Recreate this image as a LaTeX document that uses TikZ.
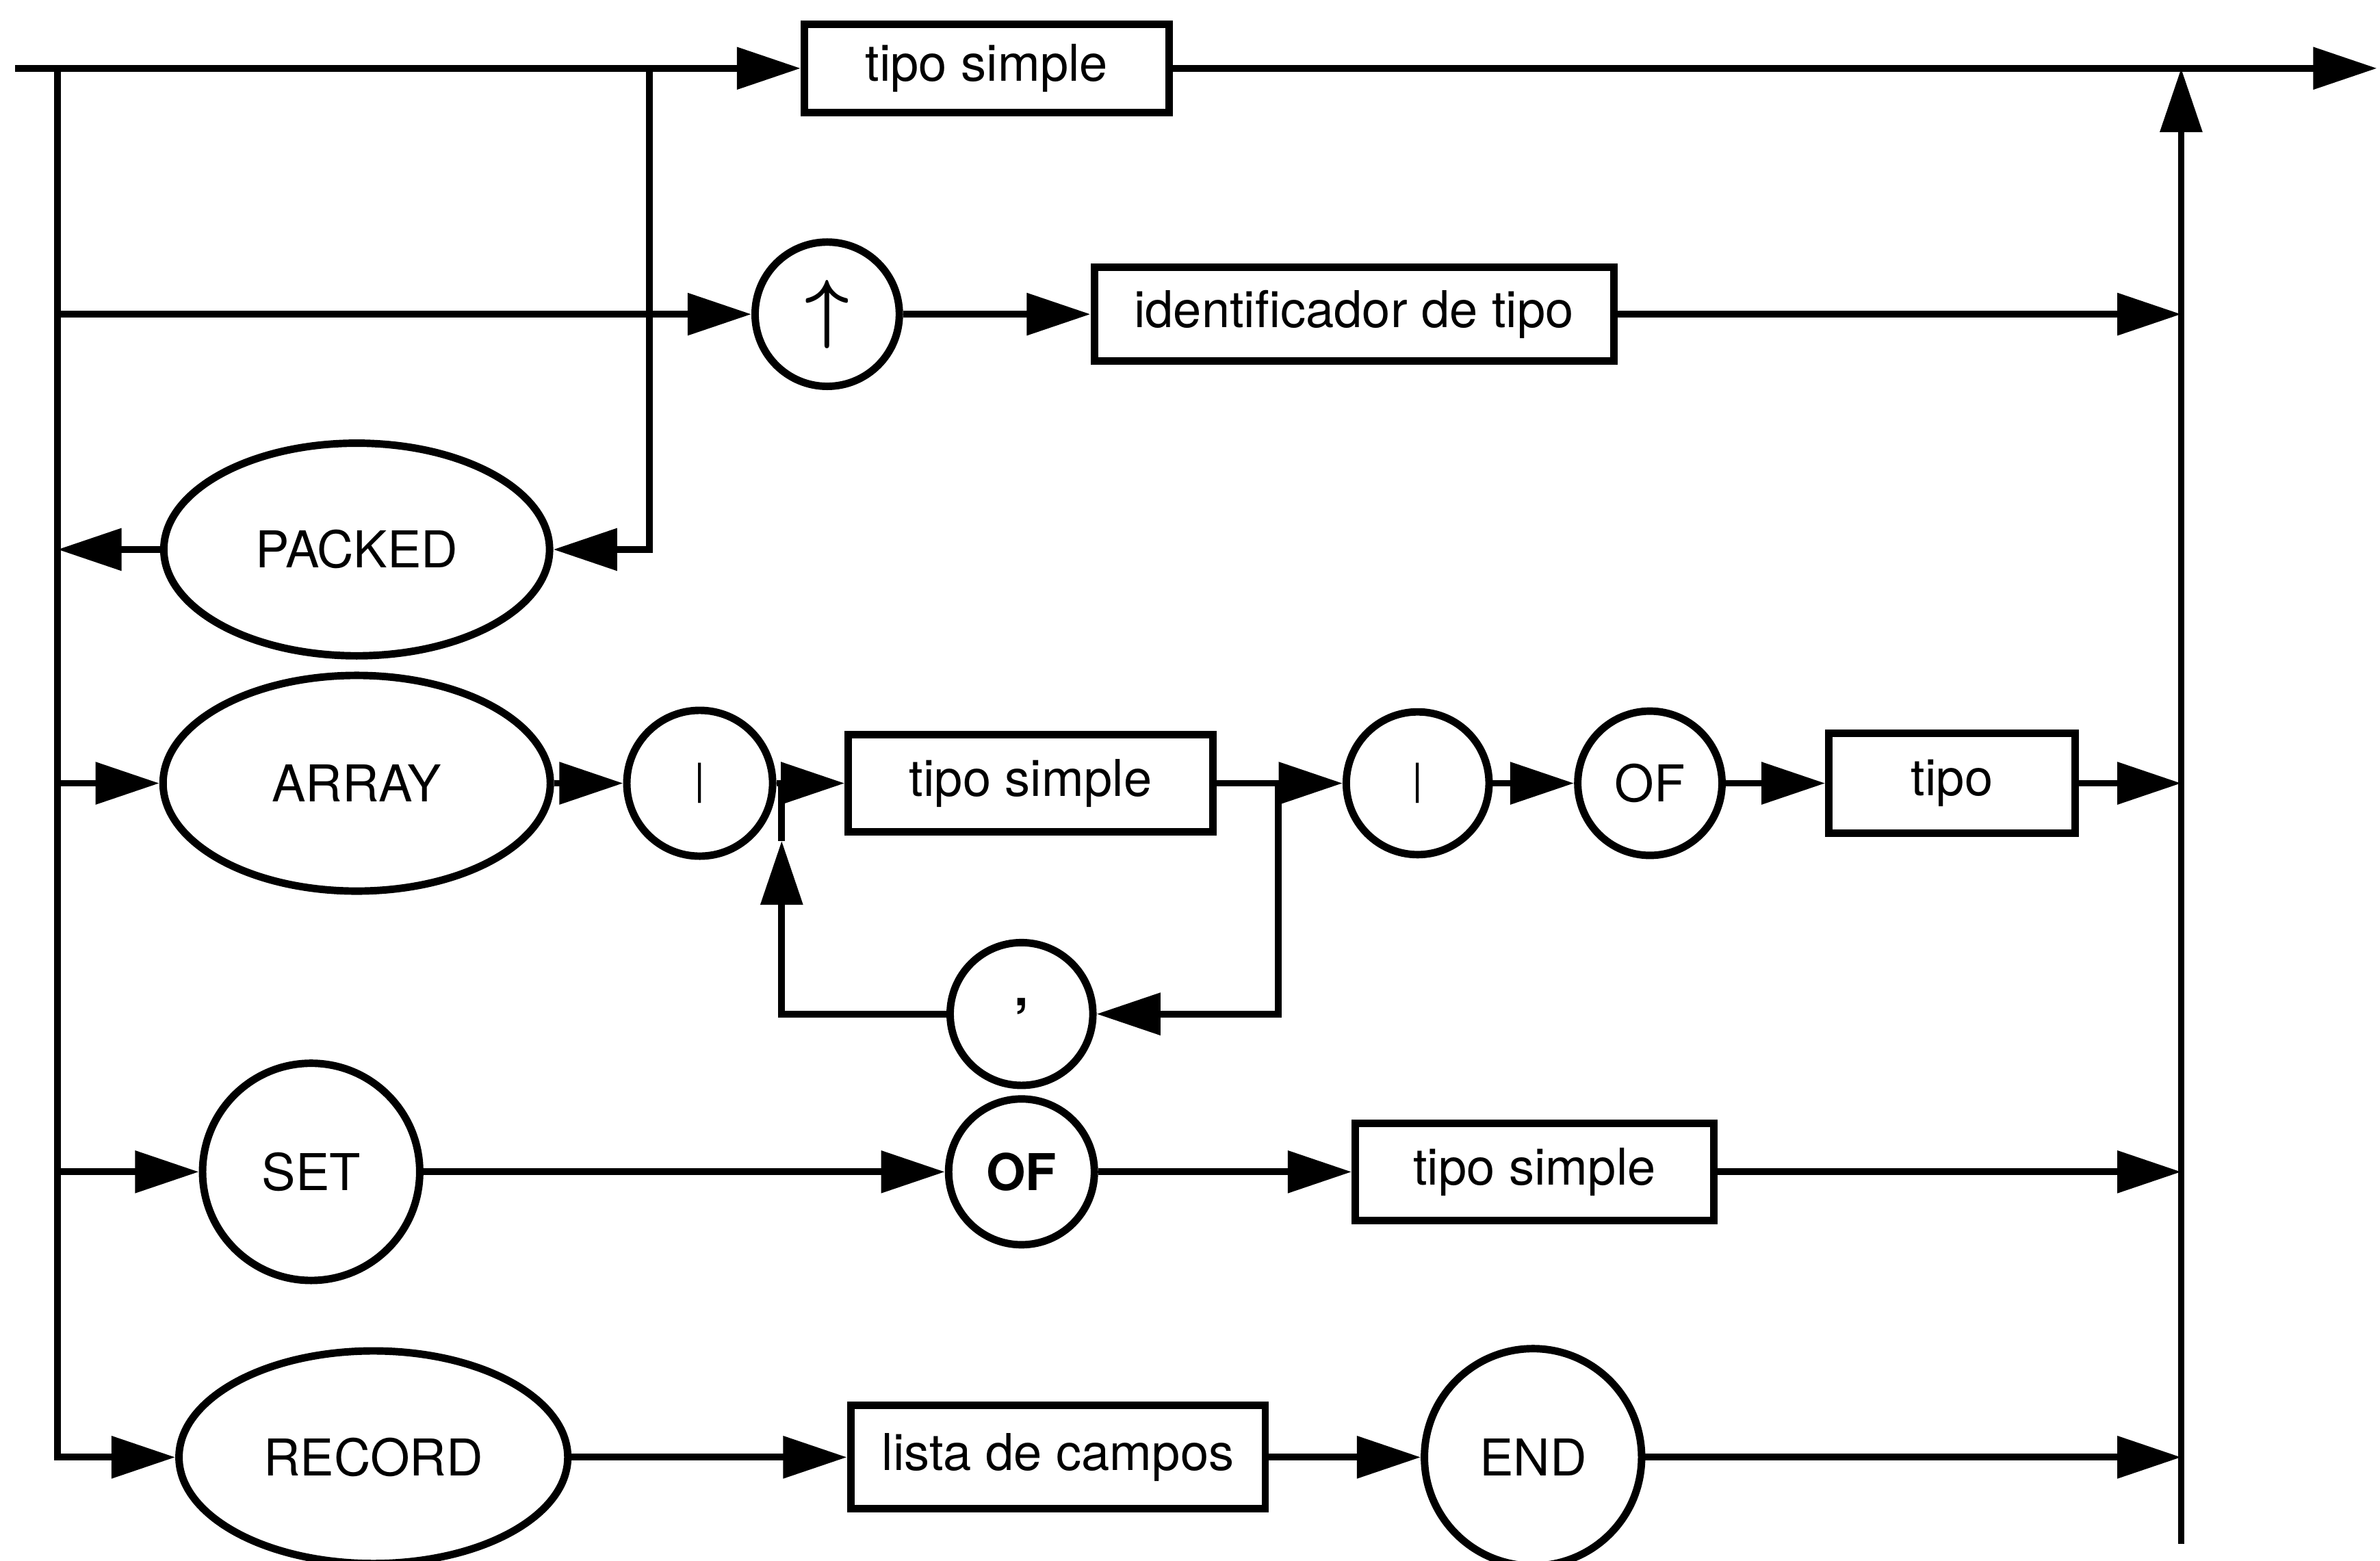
\documentclass[tikz,border=0pt]{standalone}
\usepackage{fontspec}
\usepackage{bm}
\setmainfont{TeX Gyre Heros}
\usetikzlibrary{arrows.meta,shapes.geometric}
\begin{document}
\begin{tikzpicture}[x=0.01cm,y=-0.01cm,
  line/.style={line width=1.25pt},
  arr/.style={line width=1.25pt,-{Triangle[length=0.42cm,width=0.27cm]}},
  lbl/.style={font=\fontsize{9.5}{11}\selectfont},
  box/.style={draw,rectangle,line width=1.4pt,inner sep=0pt,lbl},
  oval/.style={draw,ellipse,line width=1.4pt,inner sep=0pt,lbl},
  circ/.style={draw,circle,line width=1.4pt,inner sep=0pt,lbl}]
\useasboundingbox (0,0) rectangle (1568,1028);

% nodes
\node[box,minimum width=2.40cm,minimum height=0.58cm] (ts1) at (650,45) {tipo simple};
\node[circ,minimum size=0.95cm] (up) at (545,207) {\fontsize{15}{15}\selectfont$\bm{\uparrow}$};
\node[box,minimum width=3.42cm,minimum height=0.62cm] (idt) at (892,207) {identificador de tipo};
\node[oval,minimum width=2.54cm,minimum height=1.40cm] (packed) at (235,362) {PACKED};
\node[oval,minimum width=2.55cm,minimum height=1.42cm] (array) at (235,516) {ARRAY};
\node[circ,minimum size=0.96cm] (lb) at (461,516) {\fontsize{8}{9}\selectfont|};
\node[box,minimum width=2.40cm,minimum height=0.64cm] (ts2) at (679,516) {tipo simple};
\node[circ,minimum size=0.94cm] (comma) at (673,668) {\raisebox{0.9ex}{\bfseries,}};
\node[circ,minimum size=0.94cm] (rb) at (934,516) {\fontsize{8}{9}\selectfont|};
\node[circ,minimum size=0.95cm] (of1) at (1087,516) {OF};
\node[box,minimum width=1.62cm,minimum height=0.66cm] (tipo) at (1286,516) {tipo};
\node[circ,minimum size=1.43cm] (set) at (205,772) {SET};
\node[circ,minimum size=0.96cm] (of2) at (673,772) {\bfseries OF};
\node[box,minimum width=2.36cm,minimum height=0.64cm] (ts3) at (1011,772) {tipo simple};
\node[oval,minimum width=2.56cm,minimum height=1.40cm] (record) at (246,960) {RECORD};
\node[box,minimum width=2.73cm,minimum height=0.68cm] (lista) at (697,960) {lista de campos};
\node[circ,minimum size=1.43cm] (end) at (1010,960) {END};

% coordinates
\coordinate (start) at (10,45);
\coordinate (lt) at (38,45);
\coordinate (pt) at (428,45);
\coordinate (exit) at (1566,45);
\coordinate (rtop) at (1437,45);
\coordinate (rbot) at (1437,1017);
\coordinate (l2) at (38,207);
\coordinate (l3) at (38,362);
\coordinate (l4) at (38,516);
\coordinate (l5) at (38,772);
\coordinate (r2) at (1437,207);
\coordinate (r4) at (1437,516);
\coordinate (r5) at (1437,772);
\coordinate (r6) at (1437,960);
\coordinate (ja) at (515,516);
\coordinate (jaup) at (515,554);
\coordinate (jb) at (842,516);

% main structure
\draw[arr] (start) -- (ts1.west);
\draw[arr] (ts1.east) -- (exit);
\draw[arr] (lt) |- (record.west);
\draw[arr] (pt) |- (packed.east);
\draw[arr] (packed.west) -- (l3);
\draw[arr] (rbot) -- (rtop);

% pointer row
\draw[arr] (l2) -- (up.west);
\draw[arr] (up.east) -- (idt.west);
\draw[arr] (idt.east) -- (r2);

% array row
\draw[arr] (l4) -- (array.west);
\draw[arr] (array.east) -- (lb.west);
\draw[arr] (lb.east) -- (ts2.west);
\draw[line] (ts2.east) -- (jb);
\draw[arr] (jb) -- (rb.west);
\draw[arr] (jb) |- (comma.east);
\draw[arr] (comma.west) -| (jaup);
\draw[line] (jaup) -- (ja);
\draw[arr] (rb.east) -- (of1.west);
\draw[arr] (of1.east) -- (tipo.west);
\draw[arr] (tipo.east) -- (r4);

% set row
\draw[arr] (l5) -- (set.west);
\draw[arr] (set.east) -- (of2.west);
\draw[arr] (of2.east) -- (ts3.west);
\draw[arr] (ts3.east) -- (r5);

% record row
\draw[arr] (record.east) -- (lista.west);
\draw[arr] (lista.east) -- (end.west);
\draw[arr] (end.east) -- (r6);
\end{tikzpicture}
\end{document}
